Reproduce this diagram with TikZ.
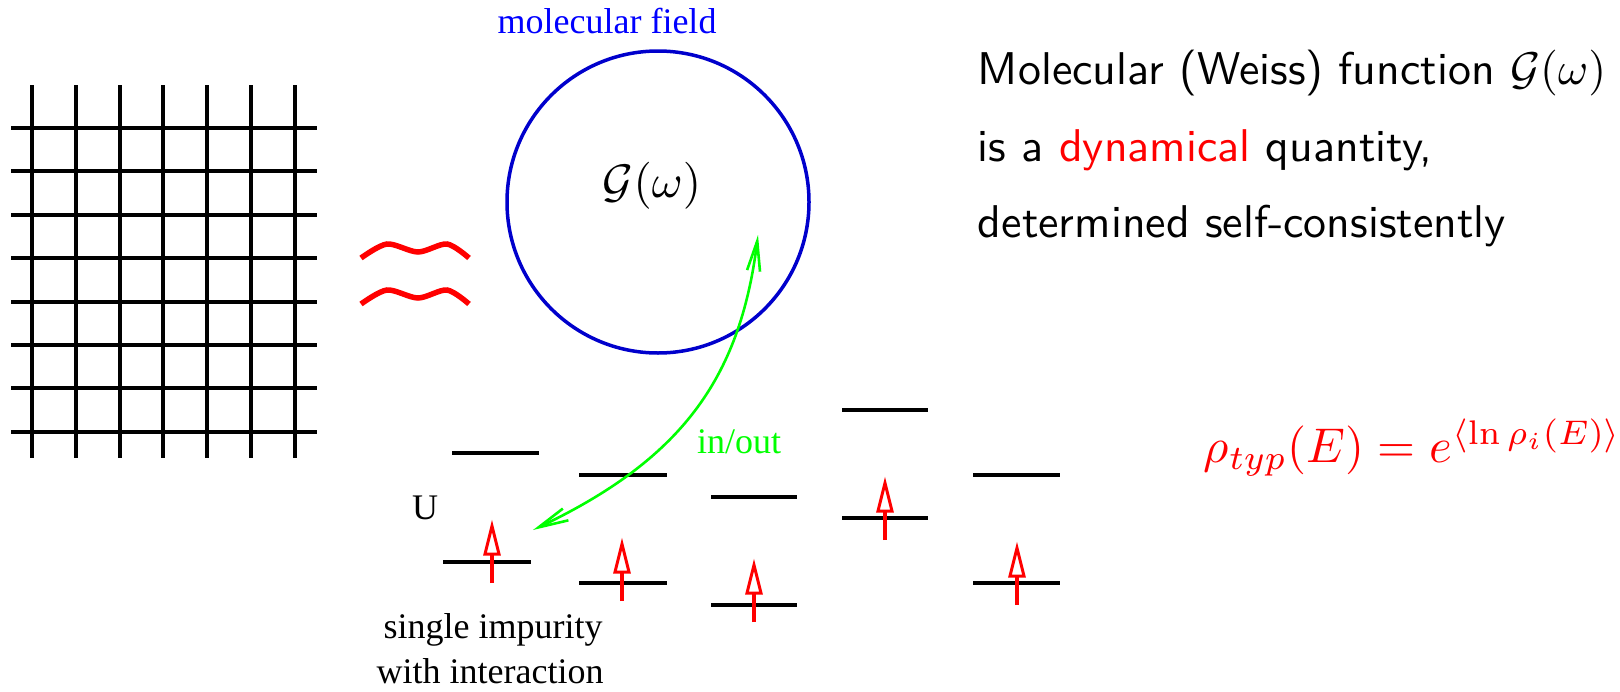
\documentclass[tikz,border=0pt]{standalone}
\usepackage{fontspec}
\newfontfamily\tnr{Liberation Serif}
\usetikzlibrary{arrows.meta}
\definecolor{cblue}{rgb}{0,0,0.8}
\definecolor{tblue}{rgb}{0,0,1}
\definecolor{lgreen}{rgb}{0,1,0}
\tikzset{
  gridline/.style={line width=4pt, black},
  wave/.style={line width=5.5pt, red},
  level/.style={line width=4pt, black},
  serif/.style={font=\tnr\fontsize{36}{40}\selectfont, inner sep=0pt},
  sans/.style={font=\sffamily, scale=4.59, inner sep=0pt, anchor=base west},
  spinshaft/.style={red, line width=4pt},
  spinhead/.style={red, line width=3pt, fill=white, line join=miter},
}
\newcommand\spinup[3]{%
  \draw[spinshaft] (#1,#2) -- (#1,#3+29);
  \draw[spinhead] (#1,#3+2) -- (#1+7,#3+30) -- (#1-7,#3+30) -- cycle;}
\begin{document}
\begin{tikzpicture}[x=1pt,y=-1pt]
\useasboundingbox (0,0) rectangle (1620,691);
% lattice
\foreach \i in {0,...,6} \draw[gridline] (32+43.8*\i,85) -- (32+43.8*\i,458);
\foreach \j in {0,...,7} \draw[gridline] (11,128+43.4*\j) -- (317,128+43.4*\j);
% approx sign
\foreach \d in {0,46}
  \draw[wave] plot[smooth] coordinates {(361,258+\d) (387,244+\d) (418,252+\d) (447,244+\d) (469,258+\d)};
% molecular field
\node[circle, draw=cblue, line width=3.5pt, minimum size=302pt, inner sep=0pt] (field) at (658,202) {};
\node[scale=4.7, inner sep=0pt] (G) at (652,186) {$\mathcal{G}(\omega)$};
\node[serif, text=tblue, anchor=base] (mf) at (607,33) {molecular field};
% levels
\draw[level] (452,453) -- (539,453);
\draw[level] (443,562) -- (531,562);
\draw[level] (579,475) -- (667,475);
\draw[level] (579,583) -- (667,583);
\draw[level] (711,497) -- (797,497);
\draw[level] (711,605) -- (797,605);
\draw[level] (842,410) -- (928,410);
\draw[level] (842,518) -- (928,518);
\draw[level] (973,475) -- (1060,475);
\draw[level] (973,583) -- (1060,583);
\spinup{492}{583}{524}
\spinup{622}{601}{542}
\spinup{754}{622}{563}
\spinup{885}{540}{481}
\spinup{1017}{605}{546}
\node[serif, anchor=base] (U) at (425,519) {U};
\node[serif, anchor=base] (si1) at (493,638) {single impurity};
\node[serif, anchor=base] (si2) at (490,683) {with interaction};
% in/out
\coordinate (gin) at (758,235);
\coordinate (gout) at (533,530);
\draw[lgreen, line width=2.6pt, {Straight Barb[length=30pt,width=13pt]}-{Straight Barb[length=30pt,width=13pt]}]
  (gin) .. controls (740,380) and (680,460) .. (gout);
\node[serif, text=lgreen, anchor=base west] (io) at (697,453) {in/out};
% right text
\node[sans] (t1) at (977,84) {Molecular (Weiss) function $\mathcal{G}(\omega)$};
\node[sans] (t2) at (977,161) {is a \textcolor{red}{dynamical} quantity,};
\node[sans] (t3) at (977,237) {determined self-consistently};
\node[red, scale=4.88, inner sep=0pt, anchor=base west] (rho) at (1203,462) {$\rho_{typ}(E)=e^{\langle\ln\rho_i(E)\rangle}$};
\end{tikzpicture}
\end{document}
